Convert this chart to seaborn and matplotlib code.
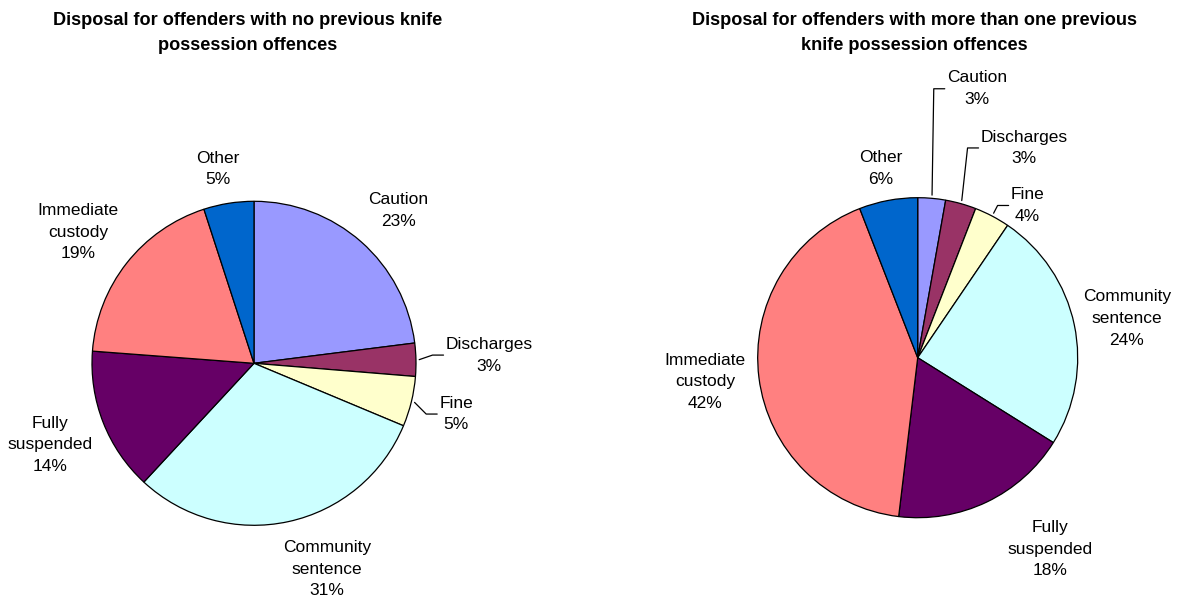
import numpy as np
import matplotlib
matplotlib.use("Agg")
import matplotlib.pyplot as plt
import seaborn as sns

# ---------------- data ----------------
categories = ["Caution", "Discharges", "Fine", "Community\nsentence",
              "Fully\nsuspended", "Immediate\ncustody", "Other"]
no_previous = [23.0, 3.3, 5.0, 30.6, 14.3, 18.8, 5.0]
more_than_one = [2.8, 3.1, 3.6, 24.4, 18.0, 42.2, 5.9]
title_left = "Disposal for offenders with no previous knife\npossession offences"
title_right = "Disposal for offenders with more than one previous\nknife possession offences"

# ---------------- style ----------------
colors = ["#9999FF", "#993366", "#FFFFCC", "#CCFFFF", "#660066", "#FF8080", "#0066CC"]
# label placement: (radial distance in radii, angle offset from wedge mid in deg, leader?)
left_lbl = [(1.297, -1.9, False), (1.452, 0.74, True), (1.286, -0.42, True),
            (1.348, 7.36, False), (1.356, 0.38, False), (1.355, 1.46, False),
            (1.22, 1.5, False)]
right_lbl = [(1.721, -7.36, True), (1.47, -11.24, True), (1.173, -8.08, True),
             (1.331, -1.18, False), (1.453, 9.04, False), (1.338, -0.7, False),
             (1.202, 0.38, False)]

sns.set_theme(style="white")
plt.rcParams["font.family"] = ["Liberation Sans", "DejaVu Sans"]
plt.rcParams["text.color"] = "black"

W, H = 1179, 603
fig = plt.figure(figsize=(W / 100, H / 100), dpi=100)
fig.patch.set_facecolor("white")

FS = 12.5
TFS = 13.1


def make_pie(cx, cy, r_px, values, lbl_specs):
    lim = 1.25
    size = 2 * lim * r_px
    ax = fig.add_axes([(cx - size / 2) / W, (H - cy - size / 2) / H, size / W, size / H])
    wedges, _ = ax.pie(values, colors=colors, startangle=90, counterclock=False,
                       wedgeprops=dict(edgecolor="black", linewidth=0.9, clip_on=False))
    ax.set_xlim(-lim, lim)
    ax.set_ylim(-lim, lim)
    ax.set_aspect("equal")
    ax.axis("off")
    total = sum(values)
    texts = []
    for w, cat, v, (dist, off, leader) in zip(wedges, categories, values, lbl_specs):
        mid = (w.theta1 + w.theta2) / 2.0
        a = np.deg2rad(mid + off)
        t = ax.text(dist * np.cos(a), dist * np.sin(a),
                    f"{cat}\n{round(v / total * 100):d}%",
                    ha="center", va="center", fontsize=FS, linespacing=1.57,
                    color="black")
        texts.append((t, mid, leader))
    return ax, texts


axL, textsL = make_pie(254, 363.3, 162, no_previous, left_lbl)
axR, textsR = make_pie(917.7, 357.7, 160, more_than_one, right_lbl)

fig.text(248 / W, 1 - 33 / H, title_left, ha="center", va="center",
         fontsize=TFS, fontweight="bold", linespacing=1.66, color="black")
fig.text(914 / W, 1 - 33 / H, title_right, ha="center", va="center",
         fontsize=TFS, fontweight="bold", linespacing=1.66, color="black")

fig.canvas.draw()
renderer = fig.canvas.get_renderer()
for ax, texts in ((axL, textsL), (axR, textsR)):
    inv = ax.transData.inverted()
    for t, mid, leader in texts:
        if not leader:
            continue
        bb = t.get_window_extent(renderer)
        a = np.deg2rad(mid)
        start = ax.transData.transform((1.02 * np.cos(a), 1.02 * np.sin(a)))
        cyp = (bb.y0 + bb.y1) / 2
        elbow = (bb.x0 - 13, cyp)
        end = (bb.x0 - 2, cyp)
        pts = inv.transform([start, elbow, end])
        ax.plot(pts[:, 0], pts[:, 1], color="black", lw=0.9, clip_on=False)

fig.savefig("out.png", dpi=100, facecolor="white")
